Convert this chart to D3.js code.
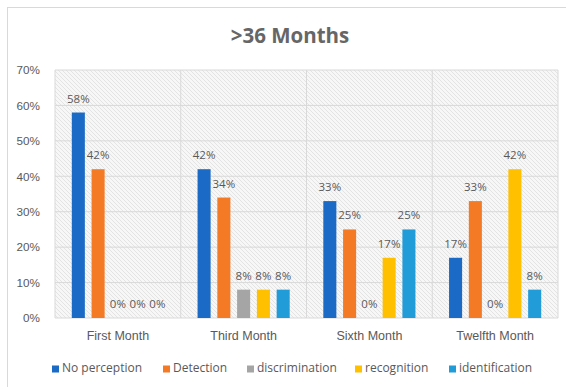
<!DOCTYPE html>
<html><head><meta charset="utf-8">
<script src="https://cdn.jsdelivr.net/npm/d3@7/dist/d3.min.js"></script>
<style>body{margin:0;background:#fff}svg{display:block;font-family:"Open Sans",sans-serif}</style>
</head><body><svg id="c" width="566" height="387"></svg>
<script>
const categories = ["First Month","Third Month","Sixth Month","Twelfth Month"];
const seriesNames = ["No perception","Detection","discrimination","recognition","identification"];
const noPerception = [58,42,33,17];
const detection = [42,34,25,33];
const discrimination = [0,8,0,0];
const recognition = [0,8,17,42];
const identification = [0,8,25,8];
const yTicks = [0,10,20,30,40,50,60,70];
const colors = ["#1B6AC6","#F57A26","#A5A5A5","#FFC000","#229BD9"];
const seriesValues = [noPerception,detection,discrimination,recognition,identification];

const svg = d3.select("#c");
const L=55,R=558,T=70,B=318;
svg.append("rect").attr("x",7.5).attr("y",7.5).attr("width",570).attr("height",400).attr("fill","#fff").attr("stroke","#D9D9D9");

const defs=svg.append("defs");
const pat=defs.append("pattern").attr("id","hatch").attr("patternUnits","userSpaceOnUse").attr("width",4).attr("height",4);
pat.append("rect").attr("width",4).attr("height",4).attr("fill","#F7F7F7");
pat.append("path").attr("d","M-1,-1 L5,5 M-1,3 L1,5 M3,-1 L5,1").attr("stroke","#E3E3E3").attr("stroke-width",1);

const x0=d3.scaleBand().domain(categories).range([L,R]);
const x1=d3.scaleBand().domain(seriesNames).range([0,x0.bandwidth()]).paddingInner(0.34).paddingOuter(0.85);
const y=d3.scaleLinear().domain([0,70]).range([B,T]);

svg.append("rect").attr("x",L).attr("y",T).attr("width",R-L).attr("height",B-T).attr("fill","url(#hatch)");
svg.append("g").selectAll("line").data(yTicks).join("line")
 .attr("x1",L).attr("x2",R).attr("y1",d=>y(d)).attr("y2",d=>y(d)).attr("stroke","#D9D9D9");
svg.append("g").selectAll("line").data(d3.range(categories.length+1)).join("line")
 .attr("x1",d=>L+d*x0.step()).attr("x2",d=>L+d*x0.step()).attr("y1",T).attr("y2",B).attr("stroke","#D9D9D9");

const yAxis=d3.axisLeft(y).tickValues(yTicks).tickFormat(d=>d+"%").tickSize(0).tickPadding(15);
const gy=svg.append("g").attr("transform",`translate(${L},0)`).call(yAxis);
gy.select(".domain").remove();
gy.selectAll("text").attr("fill","#595959").style("font-size","11.7px");

const xAxis=d3.axisBottom(x0).tickSize(0).tickPadding(13);
const gx=svg.append("g").attr("transform",`translate(0,${B})`).call(xAxis);
gx.select(".domain").remove();
gx.selectAll("text").attr("fill","#595959").style("font-size","12.5px");

const data=[];
categories.forEach((c,i)=>seriesNames.forEach((s,j)=>data.push({c,s,j,v:seriesValues[j][i]})));
svg.append("g").selectAll("rect").data(data).join("rect")
 .attr("x",d=>x0(d.c)+x1(d.s)).attr("width",x1.bandwidth())
 .attr("y",d=>y(d.v)).attr("height",d=>B-y(d.v)).attr("fill",d=>colors[d.j]);
svg.append("g").selectAll("text").data(data).join("text")
 .attr("x",d=>x0(d.c)+x1(d.s)+x1.bandwidth()/2).attr("y",d=>y(d.v)-10)
 .attr("text-anchor","middle").attr("fill","#595959").style("font-size","11.5px")
 .text(d=>d.v+"%");

svg.append("text").attr("x",290).attr("y",43).attr("text-anchor","middle")
 .attr("fill","#666666").style("font-size","20.5px").style("font-weight","bold").text(">36 Months");

const legX=[52,163,247,355,449];
const lg=svg.append("g").selectAll("g").data(seriesNames).join("g")
 .attr("transform",(d,i)=>`translate(${legX[i]},372)`);
lg.append("rect").attr("x",0).attr("y",-6.5).attr("width",7).attr("height",7).attr("fill",(d,i)=>colors[i]);
lg.append("text").attr("x",10).attr("y",0).attr("fill","#595959").style("font-size","12px").text(d=>d);
</script></body></html>
